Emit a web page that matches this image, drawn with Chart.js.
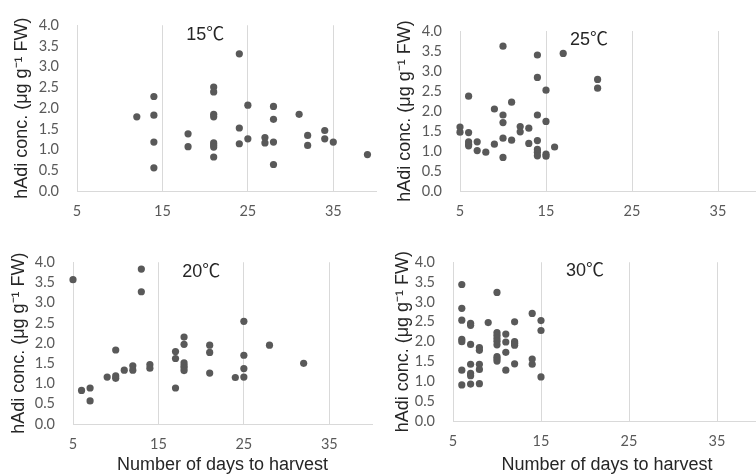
<!DOCTYPE html>
<html>
<head>
<meta charset="utf-8">
<script src="https://cdn.jsdelivr.net/npm/chart.js@4.4.1/dist/chart.umd.min.js"></script>
<style>
  body { margin: 0; background: #fff; width: 756px; height: 474px; overflow: hidden; position: relative; }
  .panel { position: absolute; width: 378px; height: 237px; overflow: hidden; }
  .panel canvas { position: absolute; left: 0; top: 0; }
</style>
</head>
<body>
<div class="panel" style="left:0;top:0"><canvas id="chart15" width="380" height="237"></canvas></div>
<div class="panel" style="left:378px;top:0"><canvas id="chart25" width="387" height="237"></canvas></div>
<div class="panel" style="left:0;top:237px"><canvas id="chart20" width="376" height="237"></canvas></div>
<div class="panel" style="left:378px;top:237px"><canvas id="chart30" width="387" height="237"></canvas></div>
<script>
const xTicks = [5, 15, 25, 35]
const yTicks = [0, 0.5, 1, 1.5, 2, 2.5, 3, 3.5, 4]
const xTitle = "Number of days to harvest"
const yTitle = "hAdi conc. (μg g⁻¹ FW)"

// 15℃
const days15 = [12, 14, 14, 14, 14, 18, 18, 21, 21, 21, 21, 21, 21, 21, 21, 24, 24, 24, 25, 25, 27, 27, 28, 28, 28, 28, 31, 32, 32, 34, 34, 35, 39]
const conc15 = [1.79, 2.28, 1.83, 1.18, 0.56, 1.38, 1.07, 2.51, 2.39, 1.85, 1.79, 1.16, 1.11, 1.06, 0.82, 3.31, 1.52, 1.14, 2.07, 1.26, 1.29, 1.16, 2.04, 1.73, 1.18, 0.64, 1.85, 1.34, 1.10, 1.46, 1.26, 1.18, 0.88]

// 25℃
const days25 = [5, 5, 6, 6, 6, 6, 6, 7, 7, 8, 9, 9, 10, 10, 10, 10, 10, 11, 11, 12, 12, 13, 13, 14, 14, 14, 14, 14, 14, 14, 15, 15, 15, 15, 16, 17, 21, 21]
const conc25 = [1.60, 1.47, 2.37, 1.46, 1.23, 1.17, 1.13, 1.23, 1.01, 0.97, 2.05, 1.17, 3.62, 1.90, 1.71, 1.32, 0.84, 2.22, 1.27, 1.61, 1.48, 1.57, 1.19, 3.40, 2.84, 1.90, 1.26, 1.04, 0.97, 0.88, 2.52, 1.74, 0.92, 0.87, 1.10, 3.44, 2.79, 2.57]

// 20℃
const days20 = [5, 6, 7, 7, 9, 10, 10, 10, 11, 12, 12, 13, 13, 14, 14, 17, 17, 17, 18, 18, 18, 18, 18, 18, 21, 21, 21, 24, 25, 25, 25, 25, 28, 32]
const conc20 = [3.57, 0.83, 0.89, 0.57, 1.16, 1.83, 1.19, 1.13, 1.33, 1.44, 1.33, 3.83, 3.27, 1.47, 1.38, 1.79, 1.62, 0.89, 2.15, 1.97, 1.51, 1.44, 1.39, 1.32, 1.95, 1.77, 1.26, 1.15, 2.54, 1.70, 1.37, 1.16, 1.95, 1.50]

// 30℃
const days30 = [6, 6, 6, 6, 6, 6, 6, 7, 7, 7, 7, 7, 7, 7, 8, 8, 8, 8, 8, 9, 10, 10, 10, 10, 10, 10, 10, 10, 10, 11, 11, 11, 11, 12, 12, 12, 12, 12, 14, 14, 14, 15, 15, 15]
const conc30 = [3.44, 2.84, 2.54, 2.06, 2.00, 1.28, 0.91, 2.46, 2.41, 1.93, 1.43, 1.20, 1.14, 0.93, 1.85, 1.78, 1.43, 1.30, 0.94, 2.48, 3.24, 2.23, 2.16, 2.08, 2.01, 1.92, 1.62, 1.57, 1.51, 2.19, 1.99, 1.73, 1.28, 2.50, 2.00, 1.96, 1.91, 1.44, 2.71, 1.56, 1.43, 2.53, 2.28, 1.11]

// where the temperature label sits, in data units
const labelX = 20
const labelY = 3.77

const tickFont = { family: "Lato, 'Liberation Sans', sans-serif", size: 14.5, lineHeight: 1 }
const titleFont = { family: "'Liberation Sans', Arial, sans-serif", size: 18, lineHeight: 1 }

function makePanel(id, days, conc, label, box) {
    const labelPlugin = {
        id: 'tempLabel',
        afterDatasetsDraw(chart) {
            const { ctx, scales } = chart
            ctx.save()
            ctx.font = "18px 'Liberation Sans', 'Noto Sans CJK JP', sans-serif"
            ctx.fillStyle = '#262626'
            ctx.textAlign = 'center'
            ctx.textBaseline = 'middle'
            ctx.fillText(label, scales.x.getPixelForValue(labelX), scales.y.getPixelForValue(labelY))
            ctx.restore()
        }
    }

    return new Chart(document.getElementById(id), {
        type: 'scatter',
        data: {
            datasets: [{
                data: days.map((d, i) => ({ x: d, y: conc[i] })),
                pointRadius: 3.6,
                pointBackgroundColor: '#595959',
                pointBorderWidth: 0,
                clip: false
            }]
        },
        options: {
            responsive: false,
            animation: false,
            layout: { padding: { top: box.top, left: 0, right: 0, bottom: 0 } },
            plugins: { legend: { display: false }, tooltip: { enabled: false } },
            scales: {
                x: {
                    type: 'linear',
                    min: 5,
                    max: 40,
                    afterBuildTicks: s => { s.ticks = xTicks.map(v => ({ value: v })) },
                    afterFit: s => { s.height = box.xHeight },
                    grid: { color: '#d9d9d9', drawTicks: false },
                    border: { color: '#d9d9d9' },
                    ticks: { padding: 13, color: '#595959', font: tickFont, maxRotation: 0, autoSkip: false },
                    title: { display: box.xTitle, text: xTitle, color: '#262626', font: titleFont, padding: { top: 0, bottom: 0 } }
                },
                y: {
                    min: 0,
                    max: 4,
                    afterBuildTicks: s => { s.ticks = yTicks.map(v => ({ value: v })) },
                    afterFit: s => { s.width = box.left },
                    grid: { display: false, drawTicks: false },
                    border: { display: true, color: '#d9d9d9' },
                    ticks: { padding: 18, color: '#595959', font: tickFont, autoSkip: false, callback: v => v.toFixed(1) },
                    title: { display: true, text: yTitle, color: '#262626', font: titleFont, padding: { top: box.titleX - 9, bottom: 0 } }
                }
            }
        },
        plugins: [labelPlugin]
    })
}

makePanel('chart15', days15, conc15, '15℃', { left: 77, top: 23, xHeight: 46, titleX: 22, xTitle: false })
makePanel('chart25', days25, conc25, '25℃', { left: 82, top: 31, xHeight: 46, titleX: 27, xTitle: false })
makePanel('chart20', days20, conc20, '20℃', { left: 73, top: 14, xHeight: 50, titleX: 19, xTitle: true })
makePanel('chart30', days30, conc30, '30℃', { left: 75, top: 14, xHeight: 53, titleX: 25, xTitle: true })
</script>
</body>
</html>
